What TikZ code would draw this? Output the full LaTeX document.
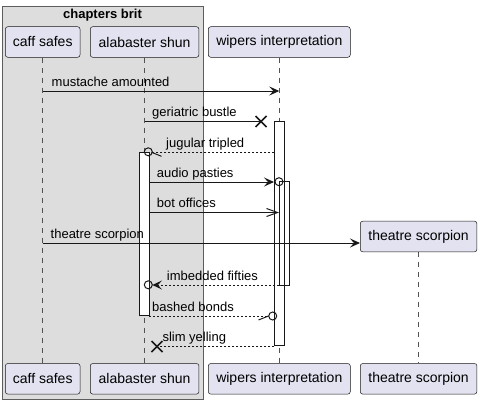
\documentclass[tikz,border=0pt]{standalone}
\usepackage{fontspec}
\setmainfont{Liberation Sans}
\usetikzlibrary{arrows.meta,calc}
\definecolor{partfill}{HTML}{E2E2F0}
\definecolor{ink}{HTML}{181818}
\definecolor{grpfill}{HTML}{DDDDDD}
\begin{document}
\begin{tikzpicture}[x=1pt,y=-1pt,
  part/.style={draw=ink, line width=0.5pt, fill=partfill, rounded corners=2.5pt,
    minimum height=30.6pt, inner sep=0pt, font=\fontsize{14}{16}\selectfont},
  lifeline/.style={draw=ink!75, line width=0.6pt, dash pattern=on 5pt off 5pt},
  act/.style={draw=ink, line width=1pt, fill=white},
  msg/.style={draw=ink, line width=1pt},
  ret/.style={draw=ink, line width=1pt, dash pattern=on 2pt off 2pt},
  lbl/.style={anchor=base west, inner sep=0pt, font=\fontsize{13}{15}\selectfont},
  tipf/.style={-{Stealth[length=10pt,width=9pt,inset=4pt]}},
  tipo/.style={-{Straight Barb[length=11pt,width=8pt]}},
  deco/.style={draw=ink, line width=1pt},
  cross/.style={draw=ink, line width=1.6pt},
]
\useasboundingbox (0,0) rectangle (482,404);
% group box
\draw[draw=ink!70, line width=0.5pt, fill=grpfill] (2,6) rectangle (203,399);
\node[font=\bfseries\fontsize{13}{15}\selectfont, inner sep=0pt] (grp) at (102.5,15.5) {chapters brit};
% participants
\node[part, minimum width=74.7pt] (caffT) at (42.7,42) {caff safes};
\node[part, minimum width=108.7pt] (alaT) at (144.6,42) {alabaster shun};
\node[part, minimum width=142pt] (wipT) at (279.3,42) {wipers interpretation};
\node[part, minimum width=74.7pt] (caffB) at (42.7,378.8) {caff safes};
\node[part, minimum width=108.7pt] (alaB) at (144.6,378.8) {alabaster shun};
\node[part, minimum width=142pt] (wipB) at (279.3,378.8) {wipers interpretation};
\node[part, minimum width=116.7pt] (theB) at (418.6,378.8) {theatre scorpion};
% lifelines
\draw[lifeline] (caffT.south) -- (caffB.north);
\draw[lifeline] (alaT.south) -- (alaB.north);
\draw[lifeline] (wipT.south) -- (wipB.north);
\draw[lifeline] (418.6,252.3) -- (theB.north);
\node[part, minimum width=116.7pt] (theT) at (418.6,236.5) {theatre scorpion};
% activations
\draw[act] (274.3,121.7) rectangle (284.3,345.7);
\draw[act] (279,181.7) rectangle (289,285);
\draw[draw=ink, line width=1pt] (284.3,181.7) -- (284.3,285);
\draw[act] (139.3,152.7) rectangle (149.3,315.7);
% 1 mustache amounted
\draw[msg, tipf] (caffT |- 0,91) -- (wipT |- 0,91);
\node[lbl] (l1) at (51.5,86) {mustache amounted};
% 2 geriatric bustle
\coordinate (x2) at (261,121.5);
\draw[msg] (alaT |- 0,121.5) -- (x2);
\draw[cross] ($(x2)+(-5.5,-5.5)$) -- ($(x2)+(5.5,5.5)$);
\draw[cross] ($(x2)+(-5.5,5.5)$) -- ($(x2)+(5.5,-5.5)$);
\node[lbl] (l2) at (152,116.5) {geriatric bustle};
% 3 jugular tripled
\coordinate (c3) at (148.3,151.8);
\draw[ret] (274.3,152.3) -- (152.3,152.3);
\draw[deco] (c3) circle (4);
\draw[deco] (151.5,152.3) -- (161.5,156.3);
\node[lbl] (l3) at (166,147.3) {jugular tripled};
% 4 audio pasties
\coordinate (c4) at (279,181.7);
\draw[msg, tipf] (149.3,182) -- (274,182);
\draw[deco] (c4) circle (4);
\node[lbl] (l4) at (156.7,177) {audio pasties};
% 5 bot offices
\draw[msg, tipo] (149.3,212.5) -- (279,212.5);
\node[lbl] (l5) at (156.7,207.5) {bot offices};
% 6 theatre scorpion
\draw[msg, tipf] (caffT |- 0,243) -- (theT.west |- 0,243);
\node[lbl] (l6) at (50.5,238) {theatre scorpion};
% 7 imbedded fifties
\coordinate (c7) at (148.3,284.8);
\draw[ret] (279,285) -- (157,285);
\fill[ink] (152.3,285) -- (162,280.5) -- (158,285) -- (162,289.5) -- cycle;
\draw[deco] (c7) circle (4);
\node[lbl] (l7) at (166.7,280) {imbedded fifties};
% 8 bashed bonds
\coordinate (c8) at (272.7,316);
\draw[ret] (149.3,316) -- (268.7,316);
\draw[deco] (c8) circle (4);
\draw[deco] (268.5,316) -- (258.5,320);
\node[lbl] (l8) at (152,311) {bashed bonds};
% 9 slim yelling
\coordinate (x9) at (157,346.5);
\draw[ret] (274.3,346.5) -- (x9);
\draw[cross] ($(x9)+(-5.5,-5.5)$) -- ($(x9)+(5.5,5.5)$);
\draw[cross] ($(x9)+(-5.5,5.5)$) -- ($(x9)+(5.5,-5.5)$);
\node[lbl] (l9) at (162.3,341.5) {slim yelling};
\end{tikzpicture}
\end{document}
